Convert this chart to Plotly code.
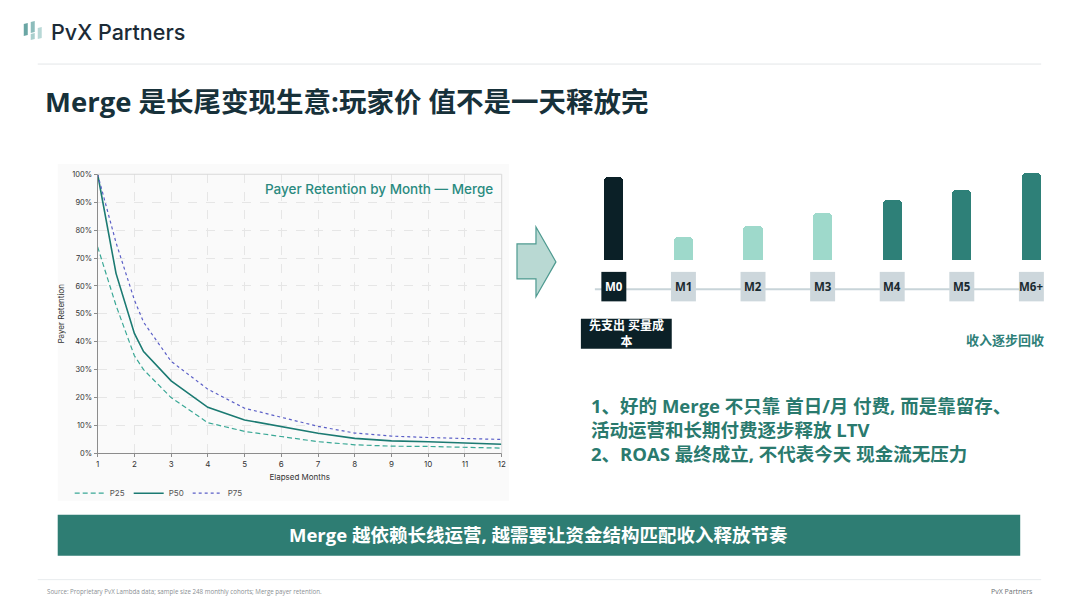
import plotly.graph_objects as go

W, H = 1080, 608

# ---------------- data ----------------
months = [1, 1.5, 2, 2.25, 3, 4, 5, 6, 7, 8, 9, 10, 11, 12]
p25 = [0.74, 0.53, 0.35, 0.30, 0.20, 0.11, 0.079, 0.060, 0.042, 0.031, 0.026, 0.025, 0.023, 0.019]
p50 = [1.00, 0.645, 0.43, 0.365, 0.26, 0.165, 0.12, 0.097, 0.072, 0.054, 0.045, 0.042, 0.038, 0.033]
p75 = [1.00, 0.755, 0.55, 0.47, 0.33, 0.23, 0.162, 0.13, 0.097, 0.073, 0.062, 0.057, 0.054, 0.050]
y_ticks = [0, 0.1, 0.2, 0.3, 0.4, 0.5, 0.6, 0.7, 0.8, 0.9, 1.0]
x_ticks = list(range(1, 13))

stage_labels = ["M0", "M1", "M2", "M3", "M4", "M5", "M6+"]
stage_values = [83, 23, 34, 47, 60, 70, 87]
stage_colors = ["#0b2027", "#9ed9cb", "#9ed9cb", "#9ed9cb", "#2e8078", "#2e8078", "#2e8078"]

title_text = "Merge 是长尾变现生意:玩家价 值不是一天释放完"
points_text = ["1、好的 Merge 不只靠 首日/月 付费, 而是靠留存、",
               "活动运营和长期付费逐步释放 LTV",
               "2、ROAS 最终成立, 不代表今天 现金流无压力"]
banner_text = "Merge 越依赖长线运营, 越需要让资金结构匹配收入释放节奏"
source_text = "Source: Proprietary PvX Lambda data; sample size 248 monthly cohorts; Merge payer retention."

CJK = "Open Sans, 'Noto Sans CJK SC', sans-serif"
LAT = "Inter, 'Open Sans', sans-serif"


def px(x):
    return ((x - 2.2) / 0.996) / W


def py(y):
    return 1 - ((y - 2.9) / 0.986) / H


fig = go.Figure()

# ---------------- retention lines ----------------
fig.add_trace(go.Scatter(x=months, y=p25, name="P25", mode="lines",
                         line=dict(color="#3aa896", width=1.2, dash="5px,3px"),
                         xaxis="x", yaxis="y"))
fig.add_trace(go.Scatter(x=months, y=p50, name="P50", mode="lines",
                         line=dict(color="#1b7a72", width=1.6),
                         xaxis="x", yaxis="y"))
fig.add_trace(go.Scatter(x=months, y=p75, name="P75", mode="lines",
                         line=dict(color="#5b5fc7", width=1.2, dash="3px,3px"),
                         xaxis="x", yaxis="y"))

# ---------------- stage bars ----------------
fig.add_trace(go.Bar(x=list(range(len(stage_labels))), y=stage_values,
                     marker=dict(color=stage_colors, cornerradius=4, line=dict(width=0)),
                     width=0.275, showlegend=False, hoverinfo="skip",
                     xaxis="x2", yaxis="y2"))

# ---------------- shapes ----------------
shapes = []
shapes.append(dict(type="rect", xref="paper", yref="paper", layer="below",
                   x0=px(58), x1=px(510), y0=py(500), y1=py(163),
                   fillcolor="#fafafa", line=dict(width=0)))
shapes.append(dict(type="line", xref="paper", yref="paper",
                   x0=px(98), x1=px(502.7), y0=py(173.3), y1=py(173.3),
                   line=dict(color="#d9d9d9", width=1)))
shapes.append(dict(type="line", xref="paper", yref="paper",
                   x0=px(502.7), x1=px(502.7), y0=py(173.3), y1=py(452.7),
                   line=dict(color="#d9d9d9", width=1)))
shapes.append(dict(type="line", xref="paper", yref="paper",
                   x0=px(38), x1=px(1043), y0=py(63), y1=py(63),
                   line=dict(color="#e3e6e8", width=1)))
shapes.append(dict(type="line", xref="paper", yref="paper",
                   x0=px(38), x1=px(1043), y0=py(579), y1=py(579),
                   line=dict(color="#e8ecee", width=1)))
# logo marks
shapes.append(dict(type="path", xref="paper", yref="paper",
                   path=f"M {px(24)},{py(23)} L {px(28)},{py(22)} L {px(28)},{py(34)} L {px(24)},{py(35)} Z",
                   fillcolor="#6aa6a4", line=dict(width=0)))
shapes.append(dict(type="path", xref="paper", yref="paper",
                   path=f"M {px(31)},{py(21)} L {px(35)},{py(20)} L {px(35)},{py(31)} L {px(31)},{py(32)} Z",
                   fillcolor="#8cbcbb", line=dict(width=0)))
shapes.append(dict(type="path", xref="paper", yref="paper",
                   path=f"M {px(31)},{py(33)} L {px(35)},{py(32)} L {px(35)},{py(38)} L {px(31)},{py(39)} Z",
                   fillcolor="#a9cfcd", line=dict(width=0)))
shapes.append(dict(type="path", xref="paper", yref="paper",
                   path=f"M {px(38)},{py(27)} L {px(42)},{py(26)} L {px(42)},{py(37)} L {px(38)},{py(38)} Z",
                   fillcolor="#b8d8d6", line=dict(width=0)))
# arrow
arrow = (f"M {px(518)},{py(243)} L {px(537)},{py(243)} L {px(537)},{py(226)} "
         f"L {px(557)},{py(261)} L {px(537)},{py(296)} L {px(537)},{py(278)} "
         f"L {px(518)},{py(278)} Z")
shapes.append(dict(type="path", xref="paper", yref="paper", path=arrow,
                   fillcolor="#b9d9d3", line=dict(color="#4e9a90", width=1.2)))
# timeline axis line
shapes.append(dict(type="line", xref="paper", yref="paper",
                   x0=px(596), x1=px(1045), y0=py(288.5), y1=py(288.5),
                   line=dict(color="#c8d4d9", width=2)))
bar_x0, bar_dx = 615, 69.7
for i, lab in enumerate(stage_labels):
    cx = bar_x0 + bar_dx * i
    shapes.append(dict(type="rect", xref="paper", yref="paper",
                       x0=px(cx - 12.5), x1=px(cx + 12.5), y0=py(300.5), y1=py(271),
                       fillcolor="#0b2027" if i == 0 else "#cdd7dc", line=dict(width=0)))
shapes.append(dict(type="rect", xref="paper", yref="paper",
                   x0=px(582), x1=px(673), y0=py(348), y1=py(318),
                   fillcolor="#0b2027", line=dict(width=0)))
shapes.append(dict(type="rect", xref="paper", yref="paper",
                   x0=px(58), x1=px(1022), y0=py(555), y1=py(514),
                   fillcolor="#2e7d73", line=dict(width=0)))

# ---------------- annotations ----------------
ann = []
ann.append(dict(text="PvX Partners", x=px(49), y=py(30.5), xref="paper", yref="paper",
                xanchor="left", yanchor="middle", showarrow=False,
                font=dict(family=LAT, size=21.5, color="#1c2b36", weight=500)))
ann.append(dict(text=f"<b>{title_text}</b>", x=px(43), y=py(100), xref="paper", yref="paper",
                xanchor="left", yanchor="middle", showarrow=False,
                font=dict(family=CJK, size=27.5, color="#17313a")))
ann.append(dict(text="Payer Retention by Month — Merge", x=px(496), y=py(188),
                xref="paper", yref="paper", xanchor="right", yanchor="middle", showarrow=False,
                font=dict(family=LAT, size=13.5, color="#2a8a80", weight=500)))
for i, lab in enumerate(stage_labels):
    cx = bar_x0 + bar_dx * i
    ann.append(dict(text=f"<b>{lab}</b>", x=px(cx), y=py(286), xref="paper", yref="paper",
                    xanchor="center", yanchor="middle", showarrow=False,
                    font=dict(family=CJK, size=11.5, color="#ffffff" if i == 0 else "#1a2a30")))
ann.append(dict(text="<b>先支出 买量成</b><br><b>本</b>", x=px(627.5), y=py(333), xref="paper", yref="paper",
                xanchor="center", yanchor="middle", showarrow=False,
                font=dict(family=CJK, size=12, color="#ffffff")))
ann.append(dict(text="<b>收入逐步回收</b>", x=px(1048), y=py(339), xref="paper", yref="paper",
                xanchor="right", yanchor="middle", showarrow=False,
                font=dict(family=CJK, size=13, color="#2e8078")))
ann.append(dict(text="<br>".join(f"<b>{t}</b>" for t in points_text),
                x=px(590), y=py(429), xref="paper", yref="paper",
                xanchor="left", yanchor="middle", align="left", showarrow=False,
                font=dict(family=CJK, size=18.5, color="#2a7a6e")))
ann.append(dict(text=f"<b>{banner_text}</b>", x=px(540), y=py(534), xref="paper", yref="paper",
                xanchor="center", yanchor="middle", showarrow=False,
                font=dict(family=CJK, size=18.5, color="#ffffff")))
ann.append(dict(text=source_text, x=px(45), y=py(590.5), xref="paper", yref="paper",
                xanchor="left", yanchor="middle", showarrow=False,
                font=dict(family="'Open Sans', sans-serif", size=6.2, color="#8a8f93")))
ann.append(dict(text="PvX Partners", x=px(1037), y=py(590.5), xref="paper", yref="paper",
                xanchor="right", yanchor="middle", showarrow=False,
                font=dict(family="'Open Sans', sans-serif", size=7, color="#6a6f73")))

# ---------------- layout ----------------
grid = dict(showgrid=True, gridcolor="#e6e6e6", griddash="dash", gridwidth=0.8)
fig.update_layout(
    width=W, height=H,
    margin=dict(l=0, r=0, t=0, b=0),
    paper_bgcolor="#ffffff", plot_bgcolor="rgba(0,0,0,0)",
    font=dict(family=LAT, color="#333333"),
    shapes=shapes, annotations=ann,
    showlegend=True,
    legend=dict(orientation="h", x=px(70), y=py(478), xanchor="left", yanchor="top",
                font=dict(family=LAT, size=8, color="#555555"),
                bgcolor="rgba(0,0,0,0)", itemwidth=30, tracegroupgap=0,
                entrywidth=14, entrywidthmode="pixels"),
    xaxis=dict(domain=[px(98), px(502.7)], range=[1, 12], tickvals=x_ticks,
               showline=True, linecolor="#8c8c8c", linewidth=1, zeroline=False,
               ticks="outside", ticklen=3, tickcolor="#8c8c8c",
               tickfont=dict(size=8, color="#333333"),
               title=dict(text="Elapsed Months", font=dict(size=8, color="#333333"), standoff=6),
               anchor="y", **grid),
    yaxis=dict(domain=[py(452.7), py(173.3)], range=[0, 1], tickvals=y_ticks, tickformat=".0%",
               showline=True, linecolor="#8c8c8c", linewidth=1, zeroline=False,
               ticks="outside", ticklen=3, tickcolor="#8c8c8c",
               tickfont=dict(size=7.5, color="#333333"),
               title=dict(text="Payer Retention", font=dict(size=8, color="#333333"), standoff=6),
               anchor="x", **grid),
    xaxis2=dict(domain=[px(bar_x0 - bar_dx / 2), px(bar_x0 + bar_dx * 6.5)],
                range=[-0.5, 6.5], visible=False, anchor="y2"),
    yaxis2=dict(domain=[py(259.3), py(169.3)], range=[0, 90], visible=False, anchor="x2"),
    bargap=0,
)

fig.write_html("out.html", config={"displayModeBar": False},
               post_script="document.body.style.margin='0';document.body.style.overflow='hidden';")
